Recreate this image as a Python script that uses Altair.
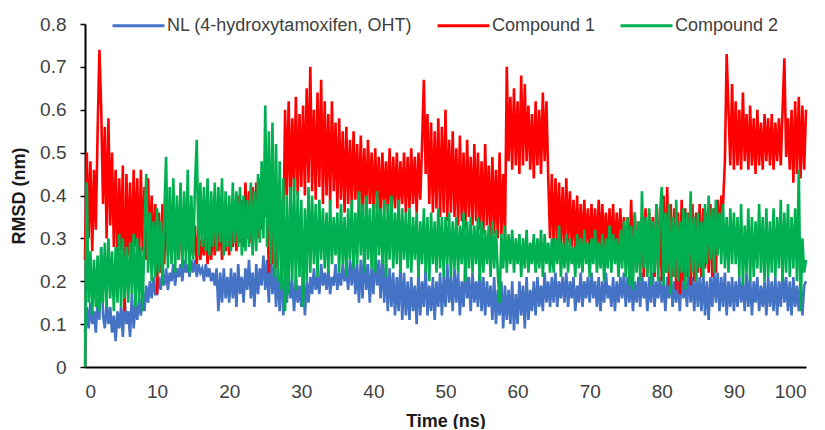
import altair as alt
import pandas as pd

STEP_NS = 0.25
series_names = ["NL (4-hydroxytamoxifen, OHT)", "Compound 1", "Compound 2"]
series_colors = ["#4472C4", "#FF0000", "#00B050"]
x_ticks = [0, 10, 20, 30, 40, 50, 60, 70, 80, 90, 100]
y_ticks = [0, 0.1, 0.2, 0.3, 0.4, 0.5, 0.6, 0.7, 0.8]

nl = [
    0.08, 0.14, 0.09, 0.15, 0.10, 0.13, 0.08, 0.16, 0.11, 0.28, 0.12, 0.09, 0.15, 0.10, 0.14, 0.08, 0.12, 0.06, 0.13, 0.09,
    0.14, 0.07, 0.16, 0.10, 0.13, 0.07, 0.17, 0.09, 0.15, 0.11, 0.16, 0.12, 0.18, 0.13, 0.19, 0.15, 0.20, 0.16, 0.21, 0.17,
    0.17, 0.21, 0.18, 0.22, 0.19, 0.23, 0.18, 0.22, 0.20, 0.24, 0.19, 0.23, 0.21, 0.24, 0.20, 0.25, 0.22, 0.24, 0.21, 0.25,
    0.22, 0.25, 0.21, 0.24, 0.22, 0.23, 0.20, 0.24, 0.21, 0.23, 0.20, 0.22, 0.19, 0.23, 0.13, 0.22, 0.15, 0.23, 0.16, 0.21,
    0.15, 0.23, 0.16, 0.22, 0.14, 0.24, 0.17, 0.21, 0.15, 0.23, 0.18, 0.25, 0.16, 0.22, 0.14, 0.24, 0.17, 0.23, 0.19, 0.26,
    0.18, 0.25, 0.15, 0.27, 0.17, 0.24, 0.14, 0.23, 0.13, 0.25, 0.12, 0.21, 0.15, 0.22, 0.16, 0.20, 0.13, 0.21, 0.15, 0.19,
    0.14, 0.22, 0.12, 0.20, 0.15, 0.21, 0.17, 0.23, 0.18, 0.21, 0.17, 0.24, 0.19, 0.22, 0.18, 0.23, 0.17, 0.21, 0.19, 0.24,
    0.18, 0.22, 0.19, 0.24, 0.20, 0.23, 0.18, 0.25, 0.19, 0.26, 0.17, 0.24, 0.15, 0.25, 0.16, 0.27, 0.18, 0.24, 0.15, 0.23,
    0.17, 0.27, 0.19, 0.25, 0.16, 0.26, 0.15, 0.24, 0.13, 0.23, 0.14, 0.22, 0.12, 0.21, 0.13, 0.24, 0.11, 0.22, 0.12, 0.20,
    0.11, 0.21, 0.13, 0.19, 0.10, 0.22, 0.12, 0.20, 0.14, 0.23, 0.12, 0.19, 0.13, 0.21, 0.11, 0.20, 0.14, 0.22, 0.12, 0.21,
    0.14, 0.24, 0.15, 0.21, 0.13, 0.23, 0.15, 0.22, 0.12, 0.20, 0.14, 0.24, 0.16, 0.21, 0.13, 0.22, 0.15, 0.20, 0.14, 0.23,
    0.13, 0.21, 0.12, 0.20, 0.14, 0.19, 0.11, 0.21, 0.10, 0.18, 0.12, 0.20, 0.09, 0.19, 0.11, 0.18, 0.10, 0.20, 0.085, 0.17,
    0.10, 0.20, 0.12, 0.19, 0.09, 0.21, 0.11, 0.18, 0.13, 0.20, 0.12, 0.21, 0.14, 0.19, 0.13, 0.22, 0.15, 0.20, 0.14, 0.21,
    0.15, 0.22, 0.14, 0.20, 0.16, 0.21, 0.15, 0.22, 0.14, 0.20, 0.16, 0.21, 0.13, 0.19, 0.15, 0.22, 0.14, 0.20, 0.16, 0.21,
    0.15, 0.22, 0.16, 0.20, 0.14, 0.21, 0.13, 0.20, 0.15, 0.22, 0.16, 0.19, 0.14, 0.21, 0.13, 0.20, 0.15, 0.21, 0.16, 0.22,
    0.14, 0.21, 0.15, 0.22, 0.13, 0.20, 0.15, 0.21, 0.14, 0.22, 0.16, 0.20, 0.13, 0.21, 0.15, 0.22, 0.14, 0.20, 0.16, 0.21,
    0.15, 0.20, 0.13, 0.21, 0.16, 0.22, 0.14, 0.20, 0.15, 0.21, 0.13, 0.22, 0.16, 0.20, 0.14, 0.23, 0.15, 0.21, 0.13, 0.22,
    0.14, 0.21, 0.13, 0.22, 0.12, 0.20, 0.11, 0.21, 0.14, 0.23, 0.15, 0.22, 0.13, 0.21, 0.14, 0.22, 0.12, 0.20, 0.14, 0.21,
    0.13, 0.20, 0.14, 0.21, 0.15, 0.20, 0.13, 0.22, 0.14, 0.21, 0.12, 0.20, 0.15, 0.21, 0.13, 0.19, 0.14, 0.20, 0.12, 0.21,
    0.14, 0.20, 0.13, 0.21, 0.12, 0.20, 0.14, 0.22, 0.15, 0.21, 0.13, 0.20, 0.12, 0.21, 0.14, 0.19, 0.13, 0.20, 0.12, 0.19,
    0.20,
]

compound1 = [
    0.25, 0.50, 0.30, 0.48, 0.27, 0.46, 0.32, 0.55, 0.74, 0.60, 0.38, 0.56, 0.30, 0.58, 0.33, 0.50, 0.28, 0.46, 0.26, 0.44,
    0.27, 0.47, 0.13, 0.45, 0.26, 0.43, 0.24, 0.46, 0.28, 0.44, 0.25, 0.46, 0.27, 0.42, 0.25, 0.44, 0.26, 0.40, 0.25, 0.38,
    0.17, 0.36, 0.22, 0.38, 0.24, 0.41, 0.26, 0.35, 0.25, 0.34, 0.27, 0.33, 0.25, 0.35, 0.26, 0.32, 0.27, 0.34, 0.25, 0.31,
    0.26, 0.33, 0.24, 0.32, 0.25, 0.30, 0.26, 0.33, 0.24, 0.31, 0.25, 0.34, 0.26, 0.32, 0.27, 0.35, 0.25, 0.33, 0.27, 0.34,
    0.26, 0.36, 0.28, 0.38, 0.27, 0.40, 0.29, 0.39, 0.28, 0.43, 0.30, 0.41, 0.29, 0.42, 0.31, 0.43, 0.30, 0.44, 0.32, 0.42,
    0.35, 0.41, 0.22, 0.38, 0.24, 0.40, 0.23, 0.36, 0.30, 0.34, 0.28, 0.60, 0.40, 0.62, 0.39, 0.58, 0.41, 0.63, 0.40, 0.59,
    0.42, 0.61, 0.40, 0.65, 0.43, 0.70, 0.41, 0.60, 0.39, 0.64, 0.42, 0.67, 0.38, 0.62, 0.40, 0.59, 0.38, 0.62, 0.41, 0.57,
    0.37, 0.58, 0.39, 0.55, 0.36, 0.56, 0.38, 0.53, 0.37, 0.55, 0.39, 0.52, 0.36, 0.54, 0.37, 0.51, 0.36, 0.53, 0.38, 0.50,
    0.36, 0.51, 0.37, 0.49, 0.35, 0.50, 0.37, 0.48, 0.36, 0.51, 0.35, 0.49, 0.37, 0.50, 0.36, 0.48, 0.38, 0.50, 0.36, 0.49,
    0.37, 0.51, 0.38, 0.49, 0.36, 0.50, 0.39, 0.52, 0.67, 0.45, 0.59, 0.38, 0.57, 0.36, 0.55, 0.37, 0.58, 0.35, 0.56, 0.36,
    0.60, 0.34, 0.53, 0.36, 0.55, 0.35, 0.51, 0.33, 0.54, 0.34, 0.50, 0.32, 0.53, 0.35, 0.49, 0.33, 0.52, 0.34, 0.50, 0.32,
    0.48, 0.31, 0.52, 0.33, 0.47, 0.30, 0.49, 0.31, 0.46, 0.30, 0.50, 0.31, 0.45, 0.30, 0.70, 0.48, 0.63, 0.46, 0.65, 0.47,
    0.62, 0.45, 0.68, 0.47, 0.66, 0.48, 0.61, 0.46, 0.59, 0.44, 0.62, 0.47, 0.60, 0.45, 0.64, 0.48, 0.62, 0.44, 0.30, 0.45,
    0.28, 0.44, 0.29, 0.43, 0.28, 0.42, 0.27, 0.44, 0.29, 0.41, 0.28, 0.39, 0.27, 0.40, 0.28, 0.38, 0.27, 0.39, 0.28, 0.37,
    0.27, 0.38, 0.28, 0.37, 0.26, 0.39, 0.27, 0.38, 0.28, 0.36, 0.26, 0.37, 0.27, 0.38, 0.25, 0.36, 0.27, 0.37, 0.26, 0.35,
    0.24, 0.35, 0.23, 0.39, 0.22, 0.36, 0.24, 0.34, 0.23, 0.35, 0.21, 0.37, 0.22, 0.36, 0.24, 0.35, 0.21, 0.38, 0.23, 0.37,
    0.20, 0.40, 0.22, 0.42, 0.19, 0.38, 0.21, 0.37, 0.18, 0.36, 0.17, 0.39, 0.20, 0.37, 0.21, 0.36, 0.19, 0.38, 0.20, 0.36,
    0.22, 0.38, 0.21, 0.37, 0.23, 0.36, 0.22, 0.38, 0.21, 0.37, 0.22, 0.39, 0.30, 0.40, 0.38, 0.48, 0.73, 0.60, 0.47, 0.66,
    0.46, 0.62, 0.47, 0.60, 0.46, 0.64, 0.48, 0.59, 0.46, 0.61, 0.47, 0.58, 0.45, 0.60, 0.47, 0.57, 0.46, 0.59, 0.48, 0.58,
    0.47, 0.59, 0.46, 0.57, 0.48, 0.58, 0.47, 0.60, 0.72, 0.49, 0.58, 0.46, 0.60, 0.43, 0.62, 0.45, 0.63, 0.44, 0.61, 0.46,
    0.60,
]

compound2 = [
    0.00, 0.43, 0.15, 0.27, 0.12, 0.25, 0.14, 0.26, 0.13, 0.28, 0.15, 0.29, 0.14, 0.30, 0.16, 0.27, 0.13, 0.28, 0.15, 0.31,
    0.14, 0.30, 0.16, 0.28, 0.15, 0.29, 0.17, 0.31, 0.14, 0.30, 0.15, 0.28, 0.13, 0.32, 0.45, 0.22, 0.36, 0.20, 0.34, 0.21,
    0.37, 0.22, 0.34, 0.19, 0.36, 0.49, 0.23, 0.42, 0.24, 0.44, 0.22, 0.40, 0.25, 0.43, 0.23, 0.41, 0.24, 0.46, 0.22, 0.40,
    0.25, 0.42, 0.53, 0.26, 0.43, 0.28, 0.42, 0.27, 0.44, 0.26, 0.41, 0.28, 0.43, 0.27, 0.42, 0.29, 0.44, 0.26, 0.41, 0.28,
    0.40, 0.27, 0.43, 0.29, 0.41, 0.28, 0.42, 0.26, 0.40, 0.27, 0.39, 0.28, 0.43, 0.26, 0.41, 0.27, 0.45, 0.29, 0.48, 0.30,
    0.61, 0.28, 0.55, 0.24, 0.57, 0.21, 0.52, 0.20, 0.48, 0.18, 0.44, 0.13, 0.40, 0.17, 0.42, 0.20, 0.44, 0.18, 0.41, 0.21,
    0.39, 0.14, 0.37, 0.20, 0.42, 0.22, 0.40, 0.24, 0.38, 0.21, 0.39, 0.25, 0.37, 0.23, 0.36, 0.22, 0.39, 0.24, 0.35, 0.26,
    0.36, 0.22, 0.38, 0.24, 0.35, 0.21, 0.37, 0.25, 0.39, 0.23, 0.36, 0.24, 0.41, 0.26, 0.38, 0.22, 0.40, 0.25, 0.37, 0.23,
    0.38, 0.22, 0.41, 0.26, 0.37, 0.24, 0.39, 0.21, 0.38, 0.25, 0.40, 0.23, 0.36, 0.24, 0.39, 0.22, 0.37, 0.25, 0.36, 0.23,
    0.37, 0.22, 0.35, 0.25, 0.36, 0.21, 0.34, 0.24, 0.37, 0.22, 0.35, 0.20, 0.36, 0.24, 0.34, 0.22, 0.37, 0.23, 0.35, 0.21,
    0.35, 0.24, 0.36, 0.21, 0.34, 0.23, 0.35, 0.22, 0.33, 0.24, 0.36, 0.20, 0.34, 0.23, 0.35, 0.22, 0.33, 0.24, 0.35, 0.20,
    0.34, 0.22, 0.32, 0.24, 0.33, 0.21, 0.34, 0.23, 0.32, 0.22, 0.15, 0.31, 0.23, 0.33, 0.22, 0.31, 0.24, 0.32, 0.22, 0.30,
    0.24, 0.31, 0.21, 0.30, 0.23, 0.32, 0.22, 0.29, 0.24, 0.31, 0.22, 0.30, 0.23, 0.32, 0.21, 0.31, 0.24, 0.29, 0.22, 0.30,
    0.22, 0.30, 0.24, 0.33, 0.21, 0.29, 0.23, 0.31, 0.22, 0.30, 0.24, 0.28, 0.21, 0.31, 0.23, 0.30, 0.22, 0.32, 0.24, 0.29,
    0.21, 0.30, 0.24, 0.32, 0.22, 0.29, 0.23, 0.31, 0.20, 0.30, 0.23, 0.33, 0.22, 0.31, 0.24, 0.30, 0.21, 0.32, 0.23, 0.34,
    0.21, 0.35, 0.19, 0.33, 0.18, 0.36, 0.22, 0.34, 0.20, 0.41, 0.23, 0.35, 0.21, 0.37, 0.19, 0.34, 0.22, 0.38, 0.20, 0.36,
    0.42, 0.19, 0.36, 0.22, 0.38, 0.17, 0.35, 0.21, 0.39, 0.20, 0.34, 0.22, 0.37, 0.18, 0.36, 0.21, 0.41, 0.22, 0.35, 0.20,
    0.36, 0.23, 0.34, 0.21, 0.38, 0.24, 0.40, 0.25, 0.37, 0.22, 0.39, 0.26, 0.36, 0.24, 0.38, 0.23, 0.35, 0.22, 0.37, 0.24,
    0.36, 0.24, 0.35, 0.21, 0.38, 0.19, 0.33, 0.22, 0.37, 0.20, 0.35, 0.21, 0.34, 0.23, 0.38, 0.22, 0.35, 0.20, 0.37, 0.21,
    0.34, 0.22, 0.37, 0.21, 0.35, 0.23, 0.39, 0.20, 0.36, 0.22, 0.38, 0.21, 0.35, 0.23, 0.37, 0.20, 0.46, 0.13, 0.30, 0.22,
    0.25,
]

assert len(nl) == len(compound1) == len(compound2) == 401, (len(nl), len(compound1), len(compound2))

FONT = "Liberation Sans"


def frame(name, values):
    times = [round(i * STEP_NS, 2) for i in range(len(values))]
    return pd.DataFrame({"Time": times, "RMSD": values, "Series": name})


color = alt.Color(
    "Series:N",
    scale=alt.Scale(domain=series_names, range=series_colors),
    legend=alt.Legend(
        title=None,
        orient="none",
        legendX=26,
        legendY=-26,
        direction="horizontal",
        symbolType="stroke",
        symbolSize=2700,
        symbolStrokeWidth=3,
        labelFont=FONT,
        labelFontSize=18,
        labelColor="#404040",
        labelOffset=1,
        labelLimit=400,
        columnPadding=18,
        padding=0,
    ),
)

x = alt.X(
    "Time:Q",
    scale=alt.Scale(domain=[0, 100], nice=False),
    axis=alt.Axis(
        values=x_ticks,
        title="Time (ns)",
        grid=False,
        ticks=False,
        labelPadding=15,
        titlePadding=11,
        domainColor="#000000",
        domainWidth=2,
    ),
)

y = alt.Y(
    "RMSD:Q",
    scale=alt.Scale(domain=[0, 0.8], nice=False),
    axis=alt.Axis(
        values=y_ticks,
        format=".1~f",
        title="RMSD (nm)",
        grid=False,
        ticks=True,
        tickSize=5,
        tickWidth=1.5,
        tickColor="#000000",
        labelPadding=14,
        titlePadding=11,
        domainColor="#000000",
        domainWidth=2,
    ),
)

layers = [
    alt.Chart(frame(name, vals))
    .mark_line(strokeWidth=2.6)
    .encode(x=x, y=y, color=color, order=alt.Order("Time:Q"))
    for name, vals in zip(series_names, [nl, compound1, compound2])
]

chart = (
    alt.layer(*layers)
    .properties(
        width=721,
        height=343,
        autosize=alt.AutoSizeParams(type="none"),
        padding={"left": 77, "top": 16, "right": 10, "bottom": 62},
        background="white",
    )
    .configure_view(stroke=None)
    .configure_axis(
        labelFont=FONT,
        labelFontSize=19,
        labelColor="#404040",
        titleFont=FONT,
        titleFontSize=18,
        titleFontWeight="bold",
        titleColor="#1a1a1a",
    )
)

chart.save("out.html", embed_options={"renderer": "svg", "actions": False})
